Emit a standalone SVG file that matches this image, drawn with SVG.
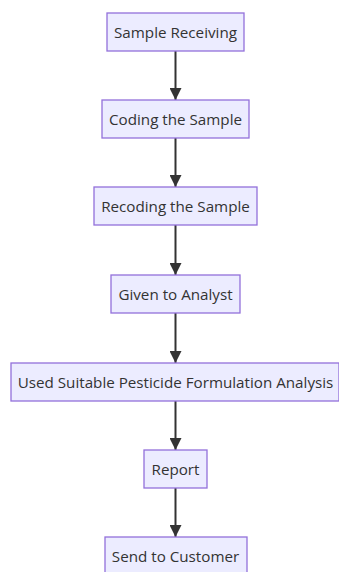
<svg xmlns="http://www.w3.org/2000/svg" width="339" height="572" viewBox="0 0 339 572">
  <style>
    .node rect { fill: #ECECFF; stroke: #9370DB; stroke-width: 1.3; }
    .node text { font-family: "Open Sans", "Liberation Sans", sans-serif; font-size: 15.2px; fill: #333; text-anchor: middle; dominant-baseline: central; }
    .edge { stroke: #333; stroke-width: 2; fill: none; }
  </style>
  <defs>
    <marker id="arrowhead" viewBox="0 0 10 10" refX="10" refY="5" markerUnits="userSpaceOnUse" markerWidth="13" markerHeight="12" orient="auto">
      <path d="M0,0 L10,5 L0,10 z" fill="#333"/>
    </marker>
  </defs>
  <rect width="339" height="572" fill="#fff"/>

  <g id="connectors">
    <path class="edge" d="M175.5,51 L175.5,100" marker-end="url(#arrowhead)"/>
    <path class="edge" d="M175.5,138 L175.5,187" marker-end="url(#arrowhead)"/>
    <path class="edge" d="M175.5,225 L175.5,275" marker-end="url(#arrowhead)"/>
    <path class="edge" d="M175.5,313 L175.5,363" marker-end="url(#arrowhead)"/>
    <path class="edge" d="M175.5,401 L175.5,450" marker-end="url(#arrowhead)"/>
    <path class="edge" d="M175.5,488 L175.5,537" marker-end="url(#arrowhead)"/>
  </g>

  <g id="sample-receiving" class="node">
    <rect x="107" y="13" width="137" height="38"/>
    <text x="175.5" y="32">Sample Receiving</text>
  </g>
  <g id="coding" class="node">
    <rect x="102" y="100" width="147" height="38"/>
    <text x="175.5" y="119">Coding the Sample</text>
  </g>
  <g id="recoding" class="node">
    <rect x="94" y="187" width="163" height="38"/>
    <text x="175.5" y="206">Recoding the Sample</text>
  </g>
  <g id="given-to-analyst" class="node">
    <rect x="111" y="275" width="129" height="38"/>
    <text x="175.5" y="294">Given to Analyst</text>
  </g>
  <g id="analysis" class="node">
    <rect x="11" y="363" width="328" height="38"/>
    <text x="175.5" y="382">Used Suitable Pesticide Formulation Analysis</text>
  </g>
  <g id="report" class="node">
    <rect x="144" y="450" width="63" height="38"/>
    <text x="175.5" y="469">Report</text>
  </g>
  <g id="send-to-customer" class="node">
    <rect x="105" y="537" width="142" height="38"/>
    <text x="175.5" y="556">Send to Customer</text>
  </g>
</svg>
